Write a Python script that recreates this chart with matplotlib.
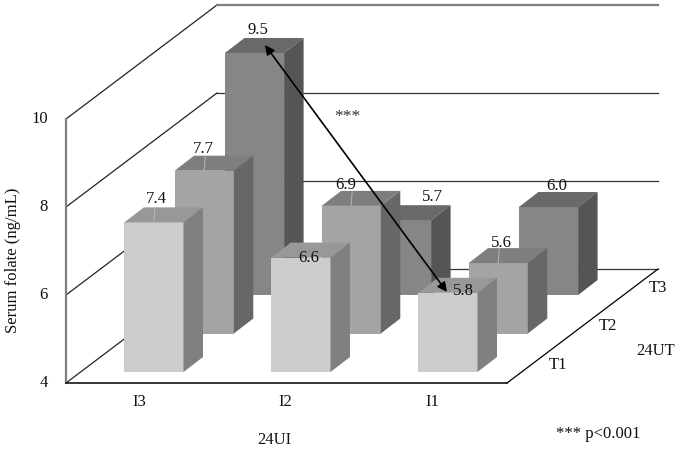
import matplotlib
matplotlib.use('Agg')
import matplotlib.pyplot as plt
from matplotlib.patches import Polygon

plt.rcParams['font.family'] = ['Liberation Serif', 'DejaVu Serif']

#==============================================================================
# Data
#==============================================================================
groups = ['I3', 'I2', 'I1']
rows = ['T1', 'T2', 'T3']
t1_values = [7.4, 6.6, 5.8]
t2_values = [7.7, 6.9, 5.6]
t3_values = [9.5, 5.7, 6.0]
yticks = [4, 6, 8, 10]

#==============================================================================
# Oblique projection, everything is in pixels of the 680x451 picture
#==============================================================================
X0, Y0 = 66, 383        # front left corner of the floor at value 4
PX_UNIT = 44            # height of one ng/mL
WALL_DX, WALL_DY = 151, -114
FLOOR_W = 441

BAR_W = 59.2
BAR_DX, BAR_DY = 19.5, -15
GROUP_STEP = 147
ROW_DX, ROW_DY = 50.3, -38.5
BAR_X0, BAR_Y0 = 124.3, 372

FS = 12
TXT = '#111111'


def bar_xy(col, row, value):
    x = BAR_X0 + col * GROUP_STEP + row * ROW_DX
    y = BAR_Y0 + row * ROW_DY
    return x, y, y - (value - yticks[0]) * PX_UNIT


fig = plt.figure(figsize=(6.8, 4.51), dpi=100)
ax = fig.add_axes([0, 0, 1, 1])
ax.set_xlim(0, 680)
ax.set_ylim(451, 0)
ax.axis('off')

#==============================================================================
# Walls and grid
#==============================================================================
for v in yticks:
    y = Y0 - (v - yticks[0]) * PX_UNIT
    back_col = '#7f7f7f' if v == yticks[-1] else '#333333'
    back_lw = 1.6 if v == yticks[-1] else 0.9
    ax.plot([X0, X0 + WALL_DX], [y, y + WALL_DY], color='#222222', lw=0.9, zorder=1)
    ax.plot([X0 + WALL_DX, X0 + WALL_DX + FLOOR_W], [y + WALL_DY, y + WALL_DY],
            color=back_col, lw=back_lw, zorder=1)
    ax.text(48, y, str(v), ha='right', va='center', fontsize=FS, color=TXT)

ax.plot([X0, X0], [Y0, Y0 - 3 * PX_UNIT * 2], color='#7f7f7f', lw=1.6, zorder=1)
ax.plot([X0, X0 + FLOOR_W], [Y0, Y0], color='black', lw=1.1, zorder=1)
ax.plot([X0 + FLOOR_W, X0 + FLOOR_W + WALL_DX], [Y0, Y0 + WALL_DY], color='black', lw=0.9, zorder=1)

#==============================================================================
# Bars, back row first
#==============================================================================
front_cols = ['#cccccc', '#a4a4a4', '#868686']
top_cols = ['#989898', '#7e7e7e', '#696969']
side_cols = ['#808080', '#676767', '#555555']
all_values = [t1_values, t2_values, t3_values]

# small shifts of the value labels from the middle of the front top edge
label_shift = [[(2, -23), (8, 0), (16, -2)],
               [(-1, -22), (-6, -21), (3, -20)],
               [(3, -23), (31, -23), (8, -21)]]
# bars whose label has a faint leader line across the top face
leaders = [(0, 0), (1, 0), (1, 1), (1, 2)]

for r in [2, 1, 0]:
    for c in range(3):
        x, y0, y1 = bar_xy(c, r, all_values[r][c])
        z = 5 + (2 - r) * 3
        ax.add_patch(Polygon([(x, y0), (x + BAR_W, y0), (x + BAR_W, y1), (x, y1)],
                             fc=front_cols[r], ec='none', zorder=z))
        ax.add_patch(Polygon([(x, y1), (x + BAR_W, y1), (x + BAR_W + BAR_DX, y1 + BAR_DY),
                              (x + BAR_DX, y1 + BAR_DY)],
                             fc=top_cols[r], ec='none', zorder=z))
        ax.add_patch(Polygon([(x + BAR_W, y0), (x + BAR_W + BAR_DX, y0 + BAR_DY),
                              (x + BAR_W + BAR_DX, y1 + BAR_DY), (x + BAR_W, y1)],
                             fc=side_cols[r], ec='none', zorder=z))

for r, c in leaders:
    x, y0, y1 = bar_xy(c, r, all_values[r][c])
    xm = x + BAR_W / 2
    ax.plot([xm + 1, xm], [y1 + BAR_DY, y1], color='#b5b5b5', lw=0.7, zorder=25)

for r in [2, 1, 0]:
    for c in range(3):
        val = all_values[r][c]
        x, y0, y1 = bar_xy(c, r, val)
        dx, dy = label_shift[r][c]
        ax.text(x + BAR_W / 2 + dx, y1 + dy, '%.1f' % val, ha='center', va='center',
                fontsize=FS, color=TXT, zorder=30)

#==============================================================================
# Text and arrow
#==============================================================================
for c, g in enumerate(groups):
    ax.text(139 + c * 146.5, 402, g, ha='center', va='center', fontsize=FS, color=TXT)
for r, t in enumerate(rows):
    ax.text(558 + r * 50, 365 - r * 38.5, t, ha='center', va='center', fontsize=FS, color=TXT)

ax.text(274, 440, '24UI', ha='center', va='center', fontsize=FS, color=TXT)
ax.text(656, 351, '24UT', ha='center', va='center', fontsize=FS, color=TXT)
ax.text(13, 260, 'Serum folate (ng/mL)', rotation=90, ha='center', va='center',
        fontsize=FS, color=TXT)
ax.text(347, 117, '***', ha='center', va='center', fontsize=12.5, color='#333333')
ax.text(598, 434, '*** p<0.001', ha='center', va='center', fontsize=FS, color=TXT)

ax.annotate('', xy=(265, 45), xytext=(447, 292), zorder=40,
            arrowprops=dict(arrowstyle='<|-|>', color='black', lw=1.2,
                            mutation_scale=14, shrinkA=0, shrinkB=0))

fig.savefig('out.png', dpi=100)
